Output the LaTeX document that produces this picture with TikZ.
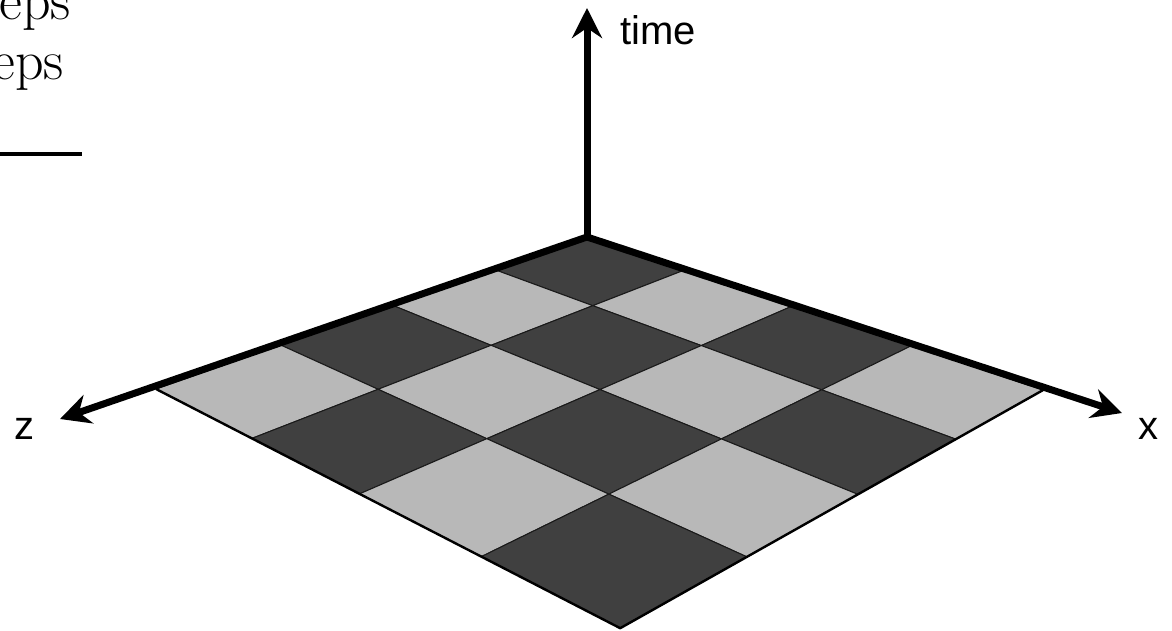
\documentclass[tikz,border=0pt]{standalone}
\usepackage{fontspec}
\newfontfamily\axisfont{Liberation Sans}
\usetikzlibrary{arrows.meta}
\definecolor{boarddark}{HTML}{404040}
\definecolor{boardlight}{HTML}{B8B8B8}

\begin{document}
\begin{tikzpicture}[
    x=0.5pt, y=-0.5pt,
    >={Stealth[length=15pt, width=15pt, inset=5pt]},
    axis/.style={->, line width=3.5pt},
    cell/.style={draw=black!90, line width=0.5pt, line join=round},
    boardedge/.style={draw=black, line width=1.2pt, line join=round},
    axislabel/.style={font=\axisfont\fontsize{20}{24}\selectfont, inner sep=0pt},
    legendtext/.style={font=\fontsize{28}{33}\selectfont, inner sep=0pt},
    declare function={
      px(\x,\y)=(587+67.175*\x-114.8*\y)/(1-0.0449*\x-0.04525*\y);
      py(\x,\y)=(237+20.75*\x+20.4*\y)/(1-0.0449*\x-0.04525*\y);
    }
  ]
  \clip (0,0) rectangle (1172,631);

  % cut-off legend
  \node[legendtext, anchor=base east] (legendone) at (71.5,20) {eps};
  \node[legendtext, anchor=base east] (legendtwo) at (64.5,80) {eps};
  \draw[line width=2pt] (-10,154) -- (82,154);

  % board, 4x4 cells in perspective
  \foreach \i in {0,...,3}
    \foreach \j in {0,...,3} {
      \ifodd\numexpr\i+\j\relax \def\cellfill{boardlight}\else \def\cellfill{boarddark}\fi
      \filldraw[cell, fill=\cellfill] ({px(\i,\j)},{py(\i,\j)}) -- ({px(\i+1,\j)},{py(\i+1,\j)})
        -- ({px(\i+1,\j+1)},{py(\i+1,\j+1)}) -- ({px(\i,\j+1)},{py(\i,\j+1)}) -- cycle;
    }
  \coordinate (rightend) at ({px(4,0)},{py(4,0)});
  \coordinate (bottomend) at ({px(4,4)},{py(4,4)});
  \coordinate (leftend) at ({px(0,4)},{py(0,4)});
  \draw[boardedge] (rightend) -- (bottomend) -- (leftend);

  % axes
  \coordinate (corner) at ({px(0,0)},{py(0,0)});
  \coordinate (ztip) at (60,419);
  \coordinate (xtip) at (1122,413);
  \coordinate (ttip) at (587,8);
  \draw[axis, <->] (ztip) -- (corner) -- (xtip);
  \draw[axis] (corner) -- (ttip);

  \node[axislabel, anchor=base west] (timelabel) at (620,45) {time};
  \node[axislabel, anchor=base] (zlabel) at (24,439) {z};
  \node[axislabel, anchor=base] (xlabel) at (1148,439) {x};
\end{tikzpicture}
\end{document}
